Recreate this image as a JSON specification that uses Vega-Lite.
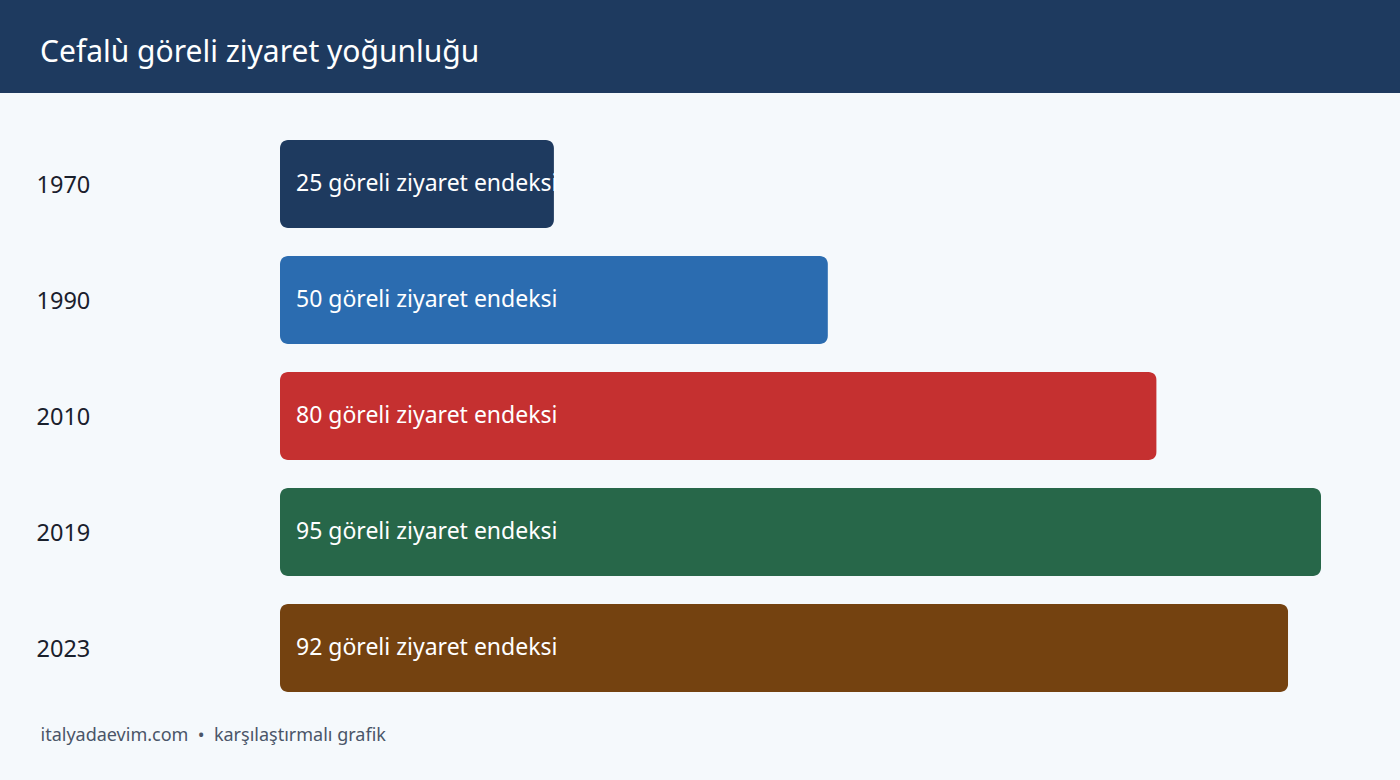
{
  "$schema": "https://vega.github.io/schema/vega-lite/v6.json",
  "autosize": "none",
  "width": 1400,
  "height": 687,
  "padding": {"top": 93, "left": 0, "right": 0, "bottom": 0},
  "background": "#1e3a5f",
  "title": {
    "text": "Cefalù göreli ziyaret yoğunluğu",
    "anchor": "start",
    "dx": 40,
    "offset": 10,
    "baseline": "middle",
    "font": "Noto Sans",
    "fontSize": 30,
    "fontWeight": "normal",
    "color": "#ffffff"
  },
  "data": {
    "values": [
      {"year": "1970", "value": 25, "label": "25 göreli ziyaret endeksi", "color": "#1e3a5f"},
      {"year": "1990", "value": 50, "label": "50 göreli ziyaret endeksi", "color": "#2b6cb0"},
      {"year": "2010", "value": 80, "label": "80 göreli ziyaret endeksi", "color": "#c53030"},
      {"year": "2019", "value": 95, "label": "95 göreli ziyaret endeksi", "color": "#276749"},
      {"year": "2023", "value": 92, "label": "92 göreli ziyaret endeksi", "color": "#744210"}
    ]
  },
  "encoding": {
    "y": {
      "field": "year",
      "type": "ordinal",
      "sort": null,
      "scale": {"range": [47, 599], "paddingInner": 0.2414, "paddingOuter": 0},
      "axis": {
        "title": null,
        "domain": false,
        "ticks": false,
        "tickSize": 0,
        "labelAlign": "left",
        "labelPadding": -36,
        "labelOffset": 2,
        "labelFont": "Noto Sans",
        "labelFontSize": 23.5,
        "labelColor": "#1a202c"
      }
    }
  },
  "layer": [
    {
      "mark": {"type": "bar", "cornerRadius": 8},
      "encoding": {
        "x": {
          "field": "value",
          "type": "quantitative",
          "scale": {"domain": [0, 95], "range": [280, 1321], "nice": false, "zero": false},
          "axis": {
            "labels": false,
            "ticks": false,
            "domain": false,
            "grid": false,
            "title": "italyadaevim.com\u00a0\u00a0•\u00a0\u00a0karşılaştırmalı grafik",
            "titleAnchor": "start",
            "titleAlign": "left",
            "titleBaseline": "middle",
            "titleX": 40,
            "titleY": -45,
            "titleFont": "Noto Sans",
            "titleFontSize": 18,
            "titleFontWeight": "normal",
            "titleColor": "#4a5568"
          }
        },
        "color": {"field": "color", "type": "nominal", "scale": null, "legend": null}
      }
    },
    {
      "mark": {
        "type": "text",
        "align": "left",
        "baseline": "middle",
        "dx": 16,
        "font": "Noto Sans",
        "fontSize": 23,
        "color": "#ffffff"
      },
      "encoding": {
        "x": {"datum": 0, "type": "quantitative"},
        "text": {"field": "label"}
      }
    }
  ],
  "config": {
    "view": {"fill": "#f5f9fc", "stroke": null}
  }
}
